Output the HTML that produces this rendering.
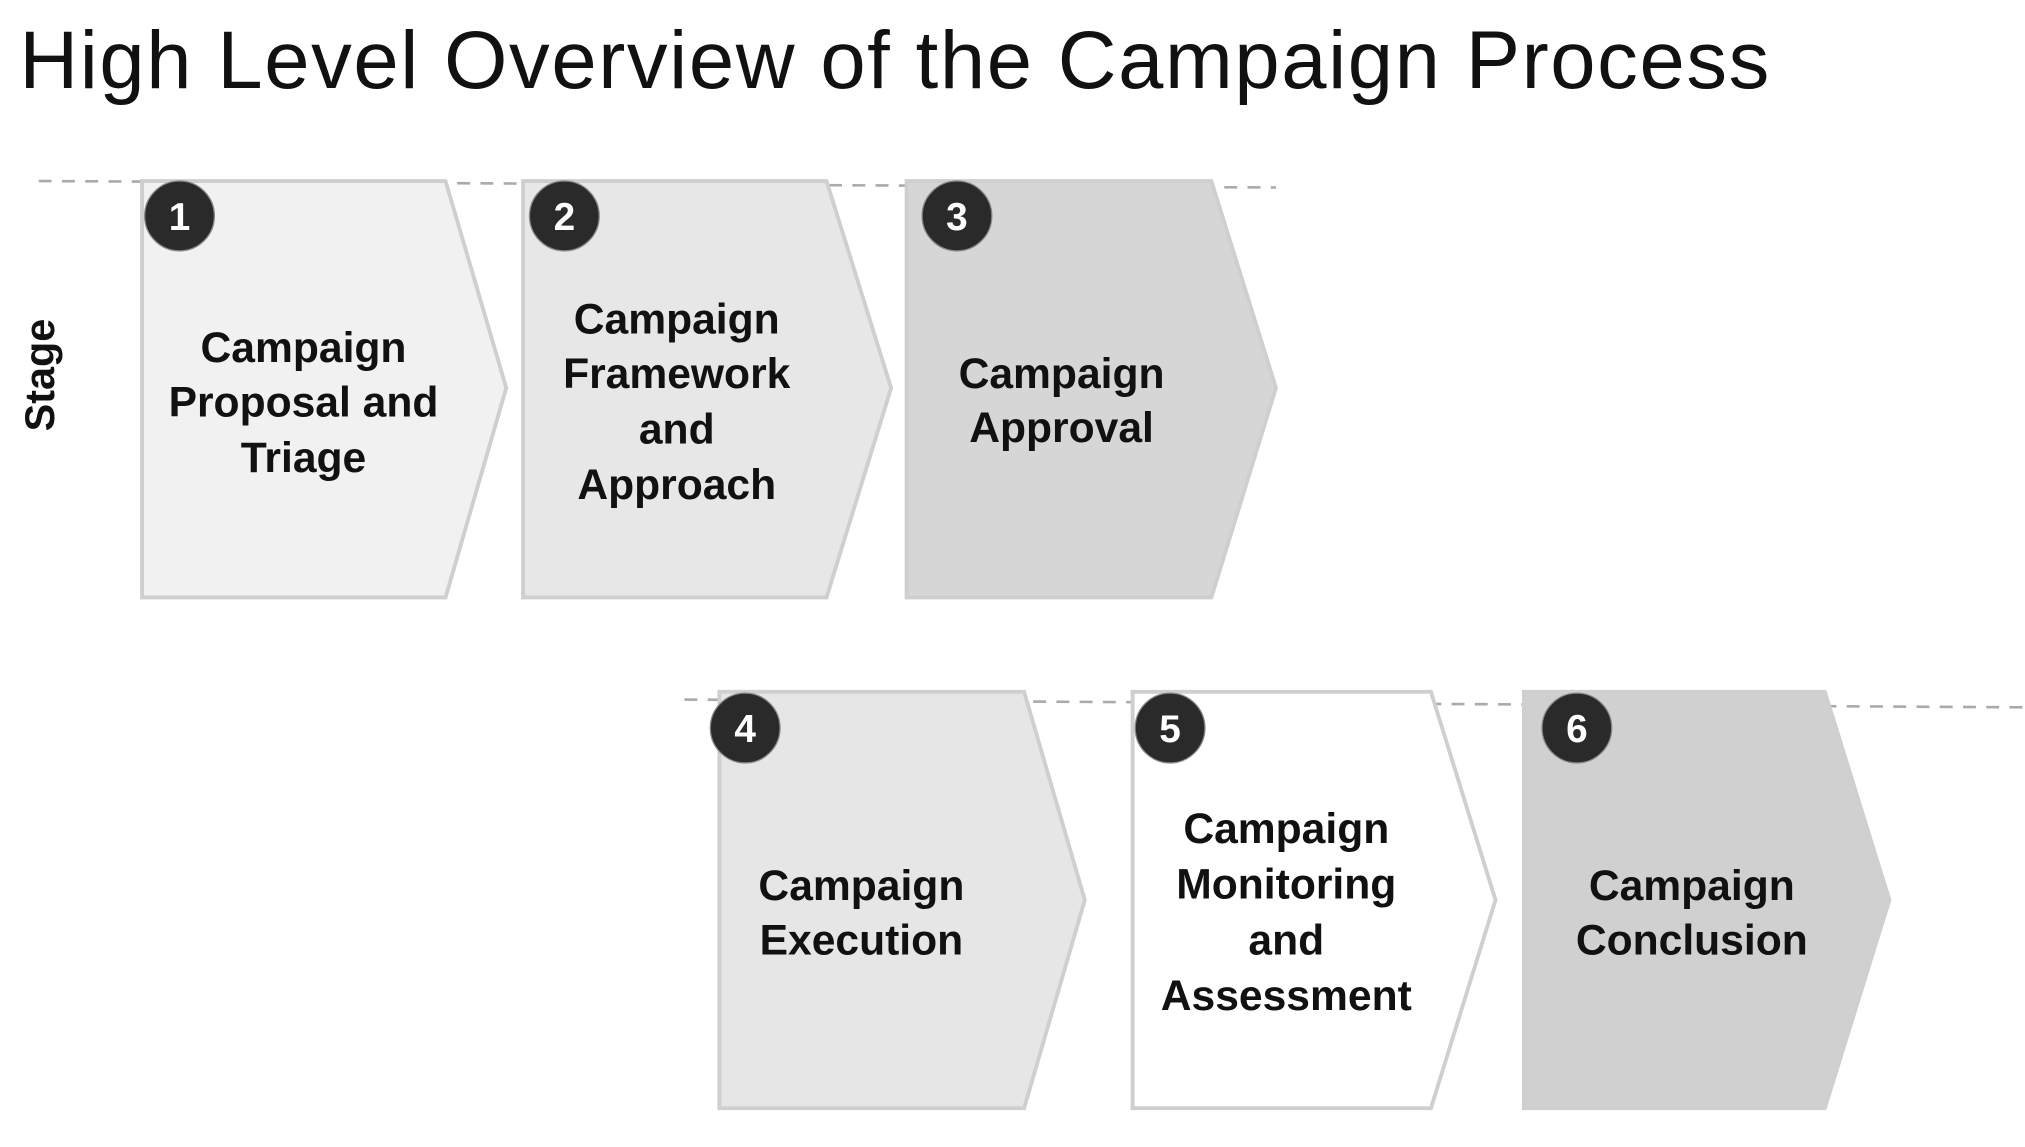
<!DOCTYPE html>
<html><head><meta charset="utf-8"><style>html,body{margin:0;padding:0;background:#fff;}svg{display:block}</style></head>
<body>
<svg width="2025" height="1147" viewBox="0 0 1568 887" preserveAspectRatio="none" xmlns="http://www.w3.org/2000/svg">
<rect width="1568" height="887" fill="#fff"/>
<text x="15" y="68" font-family="Liberation Sans, sans-serif" font-size="63" fill="#111" textLength="1355" lengthAdjust="spacing">High Level Overview of the Campaign Process</text>
<line x1="30" y1="140" x2="988" y2="145" stroke="#aaa" stroke-width="2" stroke-dasharray="10,8"/>
<line x1="530" y1="541" x2="1568" y2="547" stroke="#aaa" stroke-width="2" stroke-dasharray="10,8"/>
<g stroke="#cfcfcf" stroke-width="3">
<polygon points="110,140 345,140 392,300 345,462 110,462" fill="#f1f1f1"/>
<polygon points="405,140 640,140 690,300 640,462 405,462" fill="#e7e7e7"/>
<polygon points="702,140 938,140 988,300 938,462 702,462" fill="#d6d6d6"/>
<polygon points="557,535 793,535 840,696 793,857 557,857" fill="#e6e6e6"/>
<polygon points="877,535 1108,535 1158,696 1108,857 877,857" fill="#ffffff"/>
<polygon points="1180,535 1413,535 1463,696 1413,857 1180,857" fill="#d0d0d0"/>
</g>
<g fill="#2a2a2a" stroke="#888" stroke-width="1">
<circle cx="139" cy="167" r="27"/><circle cx="437" cy="167" r="27"/><circle cx="741" cy="167" r="27"/>
<circle cx="577" cy="563" r="27"/><circle cx="906" cy="563" r="27"/><circle cx="1221" cy="563" r="27"/>
</g>
<g font-family="Liberation Sans, sans-serif" font-weight="bold" font-size="30" fill="#fff" text-anchor="middle">
<text x="139" y="178">1</text><text x="437" y="178">2</text><text x="741" y="178">3</text>
<text x="577" y="574">4</text><text x="906" y="574">5</text><text x="1221" y="574">6</text>
</g>
<text transform="translate(42,290) rotate(-90)" font-family="Liberation Sans, sans-serif" font-weight="bold" font-size="32" fill="#111" text-anchor="middle">Stage</text>
<g font-family="Liberation Sans, sans-serif" font-weight="bold" font-size="33" fill="#111" text-anchor="middle">
<text x="235" y="280">Campaign</text><text x="235" y="322">Proposal and</text><text x="235" y="365">Triage</text>
<text x="524" y="258">Campaign</text><text x="524" y="300">Framework</text><text x="524" y="343">and</text><text x="524" y="386">Approach</text>
<text x="822" y="300">Campaign</text><text x="822" y="342">Approval</text>
<text x="667" y="696">Campaign</text><text x="667" y="738">Execution</text>
<text x="996" y="652">Campaign</text><text x="996" y="695">Monitoring</text><text x="996" y="738">and</text><text x="996" y="781">Assessment</text>
<text x="1310" y="696">Campaign</text><text x="1310" y="738">Conclusion</text>
</g>
</svg>
</body></html>
